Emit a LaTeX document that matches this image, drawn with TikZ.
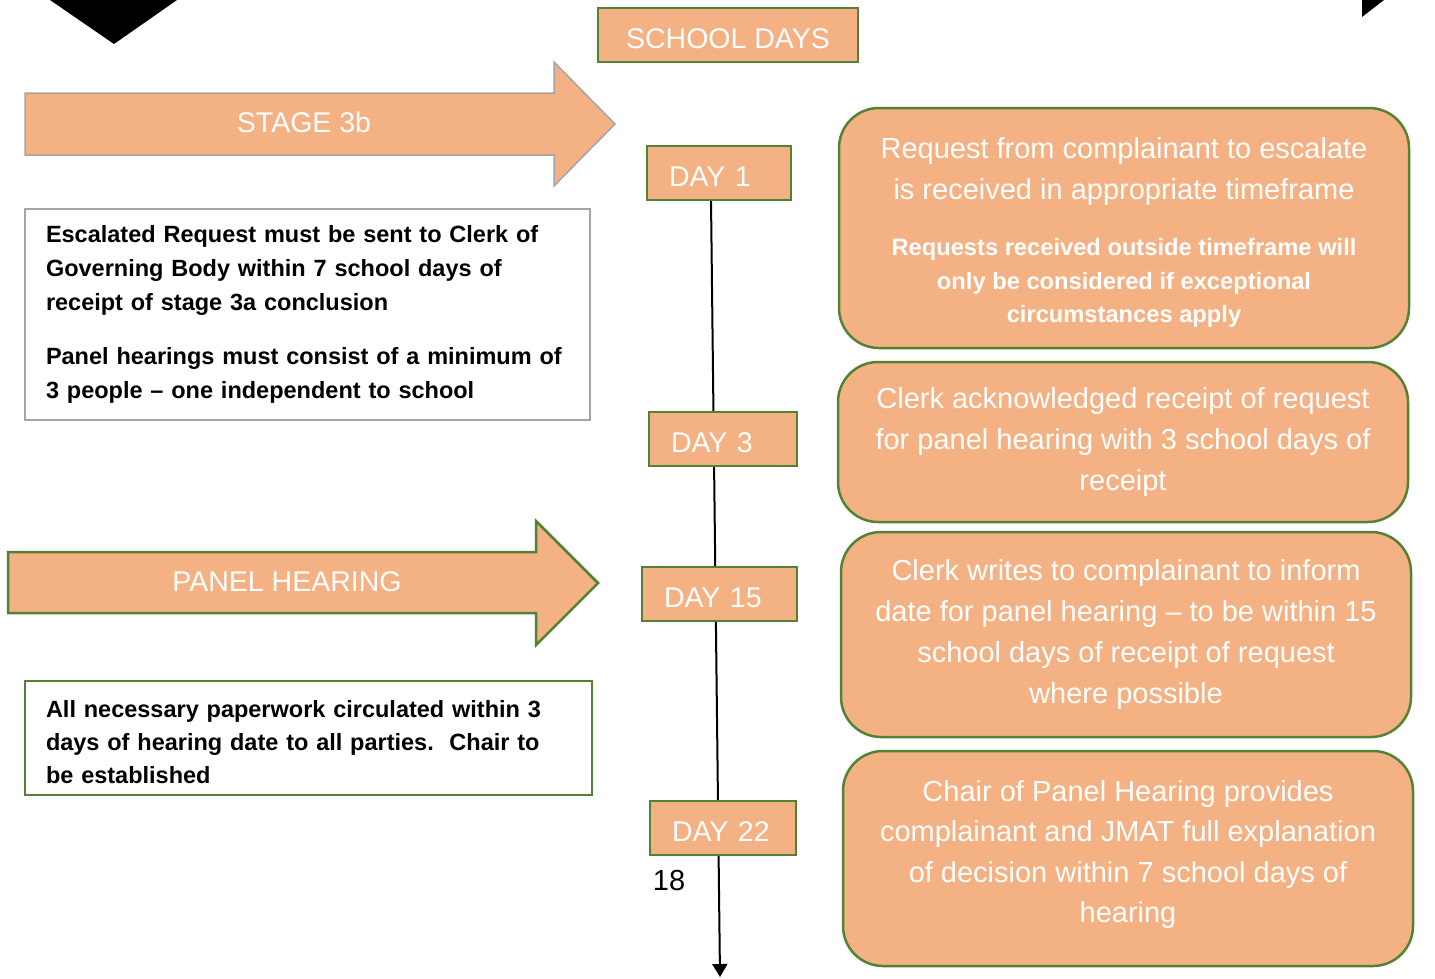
\documentclass[tikz,border=0pt]{standalone}
\usepackage{fontspec}
\setmainfont{Liberation Sans}
\usetikzlibrary{arrows.meta}
\definecolor{orng}{HTML}{F4B183}
\definecolor{grn}{HTML}{548235}
\definecolor{gry}{HTML}{A5A5A5}
\begin{document}
\begin{tikzpicture}[x=1pt,y=-1pt,
  daybox/.style={draw=grn,line width=2.5pt,fill=orng,text=white,
    font=\fontsize{28.5}{34}\selectfont,inner xsep=22pt,inner ysep=0pt,
    text height=26pt,text depth=0pt,
    align=left,minimum height=#1},
  rbox/.style={draw=grn,line width=2.5pt,fill=orng,text=white,rounded corners=40pt,
    align=center,font=\fontsize{29}{41}\selectfont,minimum width=570pt,inner sep=0pt},
  bigarrow/.style={fill=orng,line join=miter},
  arrowlabel/.style={text=white,font=\fontsize{28.5}{34}\selectfont},
  notebox/.style={fill=white,line width=2pt,minimum width=#1,inner xsep=21pt,
    align=left,font=\bfseries\fontsize{23.5}{34}\selectfont,text width=523pt},
  notetext/.style={align=left,font=\bfseries\fontsize{23.5}{33}\selectfont,text width=523pt,inner sep=0pt},
  smallbold/.style={text=white,align=center,font=\bfseries\fontsize{23.7}{33.5}\selectfont},
  bigtext/.style={text=white,align=center,font=\fontsize{29}{41}\selectfont}
]
\useasboundingbox (0,0) rectangle (1435,978);

% black corner shapes
\fill[black] (50,0) -- (177,0) -- (114,44) -- cycle;
\fill[black] (1362,0) -- (1384,0) -- (1362,17) -- cycle;

% timeline
\coordinate (ltop) at (711,200);
\coordinate (lend) at (720,977);
\draw[line width=2pt,-{Triangle[length=13pt,width=15pt]}] (ltop) -- (lend);

% school days
\node[draw=grn,line width=2.5pt,fill=orng,text=white,font=\fontsize{28.5}{34}\selectfont,
  text height=26pt,text depth=0pt,
  minimum width=260pt,minimum height=54pt] (sd) at (728,35) {SCHOOL DAYS};

% stage 3b arrow
\draw[bigarrow,draw=gry,line width=1.5pt] (25,93) -- (554,93) -- (554,62) -- (615,124)
  -- (554,186) -- (554,155) -- (25,155) -- cycle;
\node[arrowlabel] (s3b) at (304,122) {STAGE 3b};

% panel hearing arrow
\draw[bigarrow,draw=grn,line width=2.5pt] (8,552) -- (536,552) -- (536,521) -- (598,583)
  -- (536,645) -- (536,613) -- (8,613) -- cycle;
\node[arrowlabel] (ph) at (287,582) {PANEL HEARING};

% left note boxes
\node[notebox=565pt,draw=gry,minimum height=211pt] (n1) at (307.5,314.5)
  {Escalated Request must be sent to Clerk of\\
   Governing Body within 7 school days of\\
   receipt of stage 3a conclusion\\[20pt]
   Panel hearings must consist of a minimum of\\
   3 people -- one independent to school};
\node[draw=grn,fill=white,line width=2pt,minimum width=567pt,minimum height=114pt] (n2) at (308.5,738) {};
\node[notetext,anchor=center] (n2t) at (307.5,742)
  {All necessary paperwork circulated within 3\\
   days of hearing date to all parties.\ \ Chair to\\
   be established};

% day boxes
\node[daybox=54pt,text width=100pt] (d1) at (719,173) {DAY 1};
\node[daybox=54pt,text width=104pt] (d3) at (723,439) {DAY 3};
\node[daybox=54pt,text width=111pt] (d15) at (719.5,594) {DAY 15};
\node[daybox=54pt,text width=102pt] (d22) at (723,828) {DAY 22};

\node[font=\fontsize{29}{34}\selectfont] (pg) at (669,881) {18};

% right boxes
\node[rbox,minimum height=240pt] (r1) at (1124,228) {};
\node[bigtext] (r1a) at (1124,171) {Request from complainant to escalate\\ is received in appropriate timeframe};
\node[smallbold] (r1b) at (1124,283) {Requests received outside timeframe will\\ only be considered if exceptional\\ circumstances apply};

\node[rbox,minimum height=160pt] (r2) at (1123,442)
  {Clerk acknowledged receipt of request\\ for panel hearing with 3 school days of\\ receipt};
\node[rbox,minimum height=205pt] (r3) at (1126,634.5)
  {Clerk writes to complainant to inform\\ date for panel hearing -- to be within 15\\ school days of receipt of request\\ where possible};
\node[rbox,minimum height=215pt] (r4) at (1128,858.5) {};
\node[bigtext,font=\fontsize{29}{40.3}\selectfont] (r4t) at (1128,854.5)
  {Chair of Panel Hearing provides\\ complainant and JMAT full explanation\\ of decision within 7 school days of\\ hearing};
\end{tikzpicture}
\end{document}
